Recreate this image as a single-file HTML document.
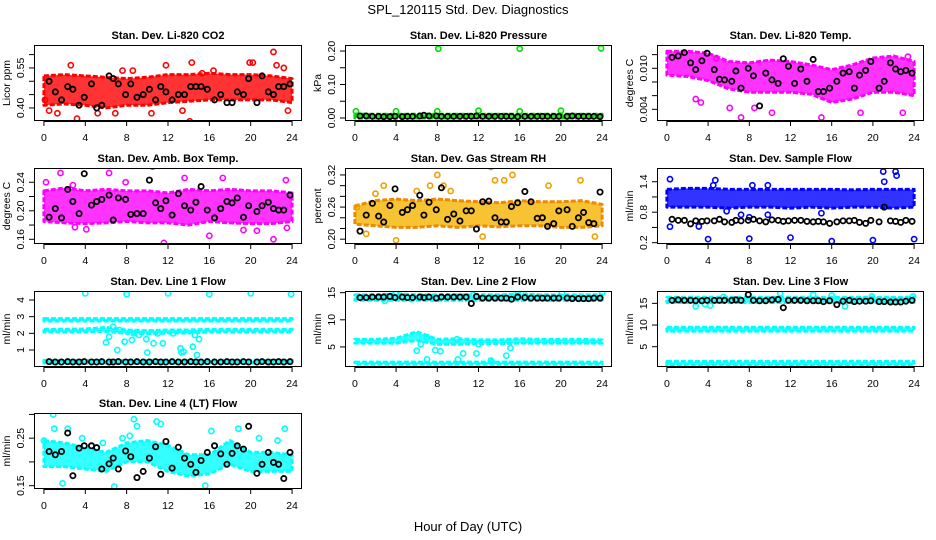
<!DOCTYPE html>
<html><head><meta charset="utf-8"><style>
html,body{margin:0;padding:0;background:#fff;}
svg{display:block;font-family:"Liberation Sans",sans-serif;}
</style></head><body>
<svg id="chart" width="936" height="540" viewBox="0 0 936 540">
<text x="468" y="14" text-anchor="middle" font-size="13">SPL_120115  Std. Dev. Diagnostics</text>
<text x="468" y="531" text-anchor="middle" font-size="13">Hour of Day (UTC)</text>
</svg>
<script>
// ---------- data ----------
const xTicks = [0,4,8,12,16,20,24];
const bandHours = [0,2,4,6,8,10,12,14,16,18,20,22,24];
const blackHours = [0.5,1.1,1.7,2.3,2.8,3.4,3.9,4.6,5.1,5.6,6.3,6.7,7.2,7.9,8.4,9.0,9.6,10.2,10.8,11.3,11.8,12.4,13.0,13.6,14.2,14.7,15.2,15.8,16.5,17.1,17.7,18.2,18.7,19.3,19.8,20.6,21.1,21.7,22.2,22.7,23.2,23.8];

const titles = ["Stan. Dev. Li-820 CO2","Stan. Dev. Li-820 Pressure","Stan. Dev. Li-820 Temp.","Stan. Dev. Amb. Box Temp.","Stan. Dev. Gas Stream RH","Stan. Dev. Sample Flow","Stan. Dev. Line 1 Flow","Stan. Dev. Line 2 Flow","Stan. Dev. Line 3 Flow","Stan. Dev. Line 4 (LT) Flow"];
const yTitles = ["Licor ppm","kPa","degrees C","degrees C","percent","ml/min","ml/min","ml/min","ml/min","ml/min"];
const yTickVals = [[0.40,0.45,0.50,0.55,0.60],[0,0.05,0.10,0.15,0.20],[0.004,0.006,0.008,0.010,0.012],[0.16,0.18,0.20,0.22,0.24],[0.20,0.22,0.24,0.26,0.28,0.30,0.32],[0.2,0.5,0.8,1.1,1.4],[1,2,3,4],[5,10,15],[5,10,15],[0.15,0.20,0.25,0.30]];
const yTickLabels = [["0.40","","","0.55",""],["0.00","","0.10","","0.20"],["0.004","","","0.010",""],["0.16","","0.20","","0.24"],["0.20","","","0.26","","","0.32"],["0.2","","0.8","","1.4"],["1","2","3","4"],["5","10","15"],["5","10","15"],["0.15","","0.25",""]];
const yDomains = [[0.351,0.636],[-0.009,0.218],[0.00229,0.01341],[0.1534,0.260],[0.191,0.333],[0.174,1.67],[-0.02,4.54],[1.30,15.31],[0.32,17.85],[0.143,0.303]];
const seriesColors = ["#ff0000","#00e000","#ff00ff","#ff00ff","#f0a000","#0000ff","#00ffff","#00ffff","#00ffff","#00ffff"];

// dense clouds (low / high envelopes at bandHours)
const co2Lo=[0.41,0.415,0.41,0.40,0.41,0.41,0.42,0.425,0.43,0.43,0.43,0.43,0.42];
const co2Hi=[0.52,0.525,0.52,0.515,0.51,0.515,0.525,0.525,0.53,0.525,0.525,0.52,0.51];
const presLo=[0,0,0,0,0,0,0,0,0,0,0,0,0];
const presHi=[0.012,0.011,0.011,0.011,0.011,0.011,0.011,0.011,0.011,0.011,0.011,0.011,0.011];
const tempLo=[0.009,0.0088,0.0082,0.007,0.0065,0.0065,0.0065,0.0062,0.005,0.0055,0.0065,0.0065,0.006];
const tempHi=[0.0125,0.0125,0.0122,0.011,0.0108,0.0112,0.011,0.0105,0.0098,0.0105,0.0115,0.0118,0.011];
const ambLo=[0.185,0.183,0.182,0.183,0.185,0.183,0.183,0.180,0.185,0.183,0.182,0.182,0.185];
const ambHi=[0.228,0.232,0.228,0.23,0.228,0.228,0.225,0.23,0.228,0.23,0.228,0.228,0.225];
const rhLo=[0.228,0.225,0.222,0.222,0.225,0.222,0.225,0.223,0.225,0.225,0.222,0.222,0.225];
const rhHi=[0.262,0.272,0.275,0.272,0.275,0.272,0.27,0.268,0.272,0.27,0.27,0.272,0.265];
const smpLo=[0.9,0.9,0.9,0.88,0.9,0.9,0.88,0.9,0.88,0.9,0.9,0.88,0.9];
const smpHi=[1.25,1.27,1.27,1.25,1.25,1.25,1.25,1.25,1.25,1.24,1.25,1.25,1.25];
const l1TopLo=[2.74,2.74,2.74,2.74,2.74,2.74,2.74,2.74,2.74,2.74,2.74,2.74,2.74];
const l1TopHi=[2.88,2.88,2.88,2.88,2.88,2.88,2.88,2.88,2.88,2.88,2.88,2.88,2.88];
const l1MidLo=[2.08,2.08,2.08,2.12,2.0,1.98,2.02,2.02,2.08,2.08,2.08,2.08,2.08];
const l1MidHi=[2.24,2.24,2.26,2.36,2.2,2.16,2.2,2.2,2.24,2.24,2.24,2.24,2.24];
const l1LowLo=[0.22,0.22,0.22,0.22,0.22,0.22,0.22,0.22,0.22,0.22,0.22,0.22,0.22];
const l1LowHi=[0.38,0.38,0.38,0.38,0.38,0.38,0.38,0.38,0.38,0.38,0.38,0.38,0.38];
const l2TopLo=[13.6,13.6,13.6,13.6,13.6,13.6,13.6,13.6,13.6,13.6,13.6,13.6,13.6];
const l2TopHi=[14.6,14.6,14.8,14.6,14.6,14.6,14.6,14.6,14.8,14.6,14.6,14.6,14.6];
const l2MidLo=[5.7,5.7,5.7,6.2,5.5,5.5,5.6,5.6,5.7,5.7,5.7,5.7,5.7];
const l2MidHi=[6.4,6.4,6.6,7.8,6.4,6.5,6.3,6.3,6.5,6.4,6.4,6.4,6.3];
const l2LowLo=[1.8,1.8,1.8,1.8,1.8,1.8,1.8,1.8,1.8,1.8,1.8,1.8,1.8];
const l2LowHi=[2.2,2.2,2.2,2.2,2.2,2.2,2.2,2.2,2.2,2.2,2.2,2.2,2.2];
const l3TopLo=[15.2,15.2,15.2,15.2,15.2,15.2,15.2,15.2,15.2,15.2,15.2,15.2,15.2];
const l3TopHi=[16.4,16.4,16.4,16.4,16.4,16.4,16.4,16.4,16.4,16.4,16.4,16.4,16.4];
const l3MidLo=[8.6,8.6,8.6,8.6,8.6,8.6,8.6,8.6,8.6,8.6,8.6,8.6,8.6];
const l3MidHi=[9.5,9.5,9.5,9.5,9.5,9.5,9.5,9.5,9.5,9.5,9.5,9.5,9.5];
const l3LowLo=[0.8,0.8,0.8,0.8,0.8,0.8,0.8,0.8,0.8,0.8,0.8,0.8,0.8];
const l3LowHi=[1.6,1.6,1.6,1.6,1.6,1.6,1.6,1.6,1.6,1.6,1.6,1.6,1.6];
const l4Lo=[0.19,0.19,0.185,0.18,0.20,0.20,0.18,0.17,0.175,0.195,0.18,0.18,0.18];
const l4Hi=[0.245,0.24,0.23,0.22,0.24,0.245,0.235,0.215,0.215,0.245,0.22,0.22,0.215];

// scattered colored points [hour, value]
const co2Out=[[0.1,0.43],[0.5,0.39],[1.3,0.38],[2.6,0.56],[3.2,0.36],[5.2,0.38],[6.9,0.38],[7.6,0.54],[8.6,0.54],[10.4,0.38],[11.8,0.56],[13.4,0.39],[14.1,0.35],[14.3,0.57],[15.3,0.53],[16.4,0.54],[19.9,0.57],[20.2,0.57],[22.2,0.61],[22.5,0.56],[23.2,0.55],[23.6,0.39]];
const presOut=[[0.1,0.02],[4,0.02],[8,0.02],[12,0.022],[16,0.02],[20,0.022],[8.1,0.207],[16,0.207],[23.9,0.208]];
const tempOut=[[2.8,0.0055],[3.3,0.005],[6.1,0.0042],[7.2,0.0028],[8.5,0.0042],[10.2,0.0035],[15,0.0028],[16.8,0.0018],[18.8,0.0035],[22.9,0.0035],[23.4,0.0117],[4.8,0.0115]];
const ambOut=[[0.2,0.24],[1.6,0.253],[4.1,0.174],[3.0,0.177],[6.3,0.253],[10.5,0.262],[11.6,0.155],[13.6,0.246],[17.3,0.246],[16.0,0.165],[20.6,0.172],[22.2,0.16],[23.5,0.176],[23.4,0.243],[7.9,0.24],[2.8,0.236],[19.3,0.173]];
const rhOut=[[0.2,0.26],[2.8,0.30],[4.0,0.198],[6.0,0.29],[7.3,0.30],[8.0,0.32],[8.6,0.30],[9.3,0.29],[13.2,0.335],[13.6,0.31],[14.5,0.31],[15.3,0.32],[12.4,0.205],[18.8,0.30],[21.9,0.31],[23.3,0.205],[2.0,0.285],[1.1,0.21]];
const smpOut=[[0.3,1.45],[0.3,0.515],[3.1,0.52],[4.0,0.27],[4.7,1.43],[4.5,1.33],[8.0,0.28],[8.0,0.70],[8.3,1.33],[9.8,1.33],[9.8,0.75],[12,0.3],[16,0.23],[20,0.25],[21,1.6],[21.1,1.4],[22.2,1.6],[22.3,1.52],[24,0.27],[15,0.78],[5.8,0.82],[7.2,0.75]];
const l1Out=[[4,4.4],[8,4.35],[12,4.4],[16,4.35],[20,4.4],[23.9,4.35],[6.0,1.45],[6.3,1.8],[7.1,1.0],[7.8,1.5],[8.5,1.6],[9.9,1.65],[10.0,0.85],[10.6,1.4],[11.5,1.4],[13.2,1.1],[13.3,0.85],[13.5,0.9],[14.4,1.2],[14.8,0.7],[15.0,1.65],[6.7,2.4],[7.3,2.2],[8.7,2.0],[9.2,1.9],[12.5,2.0],[11,2.0],[14.6,1.9]];
const l2Out=[[7,2.7],[10,2.7],[10.5,3.8],[11.8,3.8],[13.2,2.5],[13.3,2.2],[14.7,3.4],[15.1,4.8],[6.0,4.3],[7.8,4.4],[8.3,4.2],[6.4,5.5],[7.0,6.8],[9.9,6.4],[12.0,5.5],[15.8,15.2],[20.1,15.0],[24,15.0],[4,15.0],[11.5,14.6],[2.9,13.5],[5.5,13.8]];
const l3Out=[[2.8,14.3],[3.7,14.8],[4.2,14.5],[5.5,16.5],[11,17.3],[14.2,17.0],[16,16.8],[17.3,14.3],[19.9,16.6],[23.9,16.6],[7.9,17.1]];
const l4Out=[[0.9,0.30],[1.0,0.27],[2.3,0.27],[1.8,0.155],[7.6,0.25],[8.7,0.29],[9.0,0.275],[10.9,0.285],[11.3,0.28],[6.8,0.148],[15.6,0.15],[16.2,0.265],[18.8,0.27],[20.8,0.25],[23.3,0.27],[22.6,0.245],[3.7,0.25],[0.0,0.245],[8.3,0.255],[5.7,0.24]];

// black (hourly summary) values at blackHours
const co2Blk=[0.50,0.46,0.43,0.48,0.47,0.41,0.44,0.49,0.40,0.41,0.52,0.51,0.49,0.45,0.49,0.44,0.45,0.47,0.43,0.48,0.46,0.43,0.45,0.45,0.48,0.48,0.48,0.47,0.43,0.45,0.42,0.42,0.46,0.45,0.51,0.42,0.52,0.46,0.45,0.48,0.48,0.49];
const presBlk=[0.006,0.006,0.005,0.005,0.004,0.004,0.005,0.004,0.005,0.005,0.006,0.008,0.006,0.006,0.005,0.005,0.005,0.005,0.005,0.005,0.006,0.005,0.005,0.005,0.005,0.005,0.005,0.004,0.005,0.005,0.005,0.005,0.005,0.005,0.005,0.005,0.006,0.005,0.005,0.005,0.005,0.004];
const tempBlk=[0.0116,0.0118,0.0123,0.0108,0.0098,0.0111,0.0122,0.0098,0.0084,0.0083,0.0081,0.0096,0.0071,0.0100,0.0089,0.0045,0.0093,0.0083,0.0078,0.0114,0.0103,0.0078,0.0099,0.0081,0.0113,0.0066,0.0066,0.0071,0.0081,0.0093,0.0095,0.0071,0.0090,0.0097,0.0110,0.0071,0.0081,0.0108,0.0099,0.0095,0.0097,0.0093];
const ambBlk=[0.191,0.203,0.190,0.230,0.213,0.196,0.252,0.208,0.213,0.216,0.222,0.187,0.218,0.216,0.195,0.196,0.196,0.243,0.211,0.203,0.214,0.194,0.224,0.207,0.201,0.212,0.234,0.201,0.190,0.203,0.213,0.211,0.218,0.191,0.207,0.199,0.207,0.212,0.203,0.201,0.201,0.222];
const rhBlk=[0.215,0.245,0.267,0.243,0.232,0.263,0.294,0.25,0.255,0.263,0.282,0.245,0.269,0.255,0.296,0.237,0.247,0.234,0.253,0.253,0.219,0.27,0.271,0.24,0.232,0.232,0.261,0.268,0.289,0.27,0.239,0.24,0.224,0.229,0.253,0.255,0.224,0.24,0.25,0.231,0.229,0.288];
const smpBlk=[0.66,0.64,0.64,0.57,0.63,0.62,0.63,0.63,0.66,0.61,0.6,0.64,0.63,0.64,0.66,0.63,0.61,0.65,0.64,0.62,0.63,0.64,0.64,0.62,0.61,0.62,0.61,0.58,0.61,0.63,0.63,0.64,0.60,0.58,0.64,0.61,0.90,0.63,0.62,0.60,0.64,0.62];
const l1Blk=[0.3,0.28,0.28,0.3,0.28,0.28,0.3,0.28,0.28,0.3,0.28,0.28,0.3,0.28,0.28,0.3,0.28,0.28,0.3,0.28,0.28,0.3,0.28,0.28,0.3,0.28,0.28,0.3,0.28,0.28,0.3,0.28,0.28,0.3,0.28,0.28,0.3,0.28,0.28,0.3,0.28,0.3];
const l2Blk=[14.1,14.1,14.2,14.2,14.2,14.3,14.1,14.2,14.1,14.1,14.2,14.1,14.2,14.0,14.2,14.2,14.2,14.2,14.2,13.0,14.3,14.0,14.0,14.0,14.0,14.0,13.8,14.2,14.1,14.0,14.0,14.0,14.0,14.0,14.0,14.0,13.9,13.9,13.9,13.9,14.0,14.0];
const l3Blk=[15.7,15.8,15.7,15.7,15.6,15.6,15.7,15.7,15.7,15.7,15.7,15.8,15.7,17.0,15.7,15.6,15.6,15.8,15.9,14.0,15.7,15.7,15.7,15.6,15.6,15.6,15.4,15.6,14.7,15.5,15.7,15.4,15.5,15.5,15.6,15.4,15.4,15.3,15.3,15.3,15.5,15.7];
const l4Blk=[0.222,0.215,0.222,0.261,0.171,0.229,0.234,0.234,0.230,0.185,0.196,0.208,0.185,0.223,0.211,0.167,0.18,0.208,0.232,0.174,0.243,0.187,0.231,0.208,0.195,0.178,0.203,0.220,0.234,0.217,0.195,0.218,0.234,0.227,0.275,0.176,0.195,0.220,0.199,0.195,0.165,0.220];

const panelBands=[[[co2Lo,co2Hi]],[[presLo,presHi]],[[tempLo,tempHi]],[[ambLo,ambHi]],[[rhLo,rhHi]],[[smpLo,smpHi]],[[l1TopLo,l1TopHi],[l1MidLo,l1MidHi],[l1LowLo,l1LowHi]],[[l2TopLo,l2TopHi],[l2MidLo,l2MidHi],[l2LowLo,l2LowHi]],[[l3TopLo,l3TopHi],[l3MidLo,l3MidHi],[l3LowLo,l3LowHi]],[[l4Lo,l4Hi]]];
const panelOut=[co2Out,presOut,tempOut,ambOut,rhOut,smpOut,l1Out,l2Out,l3Out,l4Out];
const panelBlk=[co2Blk,presBlk,tempBlk,ambBlk,rhBlk,smpBlk,l1Blk,l2Blk,l3Blk,l4Blk];

// ---------- layout ----------
const colX=[[34,302],[345,612],[657,924]];
const rowY=[[45,121],[168,244],[291,367],[413,489]];
const NS="http://www.w3.org/2000/svg";
const svg=document.getElementById('chart');
function mk(tag,attrs,parent){const e=document.createElementNS(NS,tag);for(const k in attrs)e.setAttribute(k,attrs[k]);(parent||svg).appendChild(e);return e;}

titles.forEach((t,i)=>{
  const [x0,x1]=colX[i%3],[y0,y1]=rowY[Math.floor(i/3)];
  const g=mk('g',{});
  
  
  const xs=h=>x0+(h+0.96)/25.92*(x1-x0);
  const [d0,d1]=yDomains[i];
  const ys=v=>y1-(v-d0)/(d1-d0)*(y1-y0);
  const clip=mk('clipPath',{id:'c'+i},g);mk('rect',{x:x0,y:y0,width:x1-x0,height:y1-y0},clip);
  const pg=mk('g',{'clip-path':'url(#c'+i+')'},g);
  const col=seriesColors[i];
  panelBands[i].forEach(([lo,hi])=>{
    let pts=bandHours.map((h,k)=>xs(h)+','+ys(hi[k]));
    pts=pts.concat(bandHours.slice().reverse().map((h,k)=>xs(h)+','+ys(lo[lo.length-1-k])));
    const p=mk('polygon',{points:pts.join(' '),fill:col,stroke:col,'stroke-width':3,'stroke-dasharray':'5 2','stroke-linejoin':'round','fill-opacity':0.8},pg);
    
    
    if(i===4){p.setAttribute('fill','#f5b400');p.setAttribute('stroke','#f08800');}
  });
  panelOut[i].forEach(([h,v])=>{
    const c=mk('circle',{cx:xs(h),cy:ys(v),r:2.6,fill:'none',stroke:col,'stroke-width':1.6},pg);
    
    
  });
  panelBlk[i].forEach((v,k)=>{
    const c=mk('circle',{cx:xs(blackHours[k]),cy:ys(v),r:2.6,fill:'none',stroke:'#000','stroke-width':1.8},pg);
    
    
  });
  const box=mk('rect',{x:x0+0.5,y:y0+0.5,width:x1-x0-1,height:y1-y0-1,fill:'none',stroke:'#000','stroke-width':1},g);
  
  
  const tt=mk('text',{x:(x0+x1)/2,y:y0-6,'text-anchor':'middle','font-size':11,'font-weight':'bold'},g);tt.textContent=t;
  
  
  mk('line',{x1:xs(0),x2:xs(24),y1:y1+0.5,y2:y1+0.5,stroke:'#000'},g);
  xTicks.forEach(h=>{
    mk('line',{x1:xs(h),x2:xs(h),y1:y1,y2:y1+5,stroke:'#000'},g);
    const tx=mk('text',{x:xs(h),y:y1+20,'text-anchor':'middle','font-size':10.5},g);tx.textContent=h;
    
    
  });
  yTickVals[i].forEach((v,k)=>{
    const y=ys(v);
    mk('line',{x1:x0-5,x2:x0,y1:y,y2:y,stroke:'#000'},g);
    const lab=yTickLabels[i][k];
    if(lab){const ty=mk('text',{x:0,y:0,transform:`translate(${x0-10},${y}) rotate(-90)`,'text-anchor':'middle','font-size':10.5},g);ty.textContent=lab;
      
      }
  });
  const ya=mk('text',{x:0,y:0,transform:`translate(${x0-24},${(y0+y1)/2}) rotate(-90)`,'text-anchor':'middle','font-size':10.5},g);ya.textContent=yTitles[i];
  
  
});
</script>
</body></html>
